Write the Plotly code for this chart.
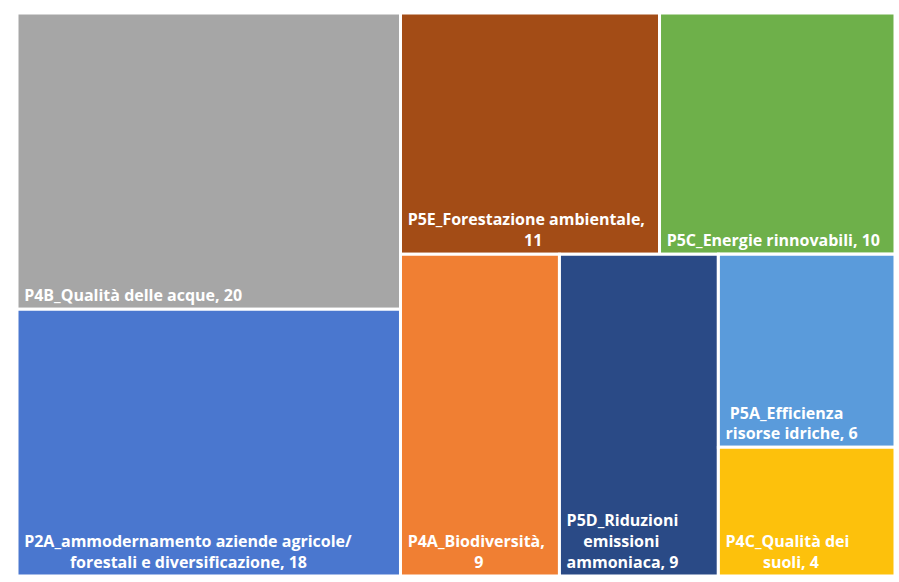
import plotly.graph_objects as go

# Leaf categories and their values
categories = [
    "P4B_Qualità delle acque",
    "P2A_ammodernamento aziende agricole/forestali e diversificazione",
    "P5E_Forestazione ambientale",
    "P5C_Energie rinnovabili",
    "P4A_Biodiversità",
    "P5D_Riduzioni emissioni ammoniaca",
    "P5A_Efficienza risorse idriche",
    "P4C_Qualità dei suoli",
]
values = [20, 18, 11, 10, 9, 9, 6, 4]

# Label lines for each tile; "{v}" marks where the value goes
label_lines = [
    ["P4B_Qualità delle acque, {v}"],
    ["P2A_ammodernamento aziende agricole/", "forestali e diversificazione, {v}"],
    ["P5E_Forestazione ambientale,", "{v}"],
    ["P5C_Energie rinnovabili, {v}"],
    ["P4A_Biodiversità,", "{v}"],
    ["P5D_Riduzioni", "emissioni", "ammoniaca, {v}"],
    ["P5A_Efficienza", "risorse idriche, {v}"],
    ["P4C_Qualità dei", "suoli, {v}"],
]
# Leading non-breaking spaces per line so each block reads centred
line_indent = [
    [1],
    [1, 12],
    [1, 29],
    [1],
    [1, 17],
    [1, 5, 1],
    [2, 1],
    [1, 10],
]

colors = [
    "#a6a6a6", "#4a77cf", "#a34c16", "#6eb04a",
    "#f07f33", "#2a4a86", "#5a9bdb", "#fdc10c",
]

# Grouping of the tiles (leaf indices nested inside layout groups)
tree = ("root", [
    ("A", [0, 1]),
    ("B", [
        ("B1", [2, 3]),
        ("B2", [4, 5, ("B3", [6, 7])]),
    ]),
])

NBSP = "\u00a0"


def leaf_template(i):
    lines = [
        NBSP * n + line.replace("{v}", "%{value}")
        for line, n in zip(label_lines[i], line_indent[i])
    ]
    return "<br>".join(lines)


ids, parents, vals, marker_colors, templates = [], [], [], [], []


def walk(node, parent):
    if isinstance(node, int):
        ids.append(categories[node])
        parents.append(parent)
        vals.append(values[node])
        marker_colors.append(colors[node])
        templates.append(leaf_template(node))
        return
    name, children = node
    ids.append(name)
    parents.append(parent)
    vals.append(0)
    marker_colors.append("#ffffff")
    templates.append(" ")
    for child in children:
        walk(child, name)


walk(tree, "")

fig = go.Figure(go.Treemap(
    ids=ids,
    labels=ids,
    parents=parents,
    values=vals,
    branchvalues="remainder",
    sort=False,
    texttemplate=templates,
    textposition="bottom left",
    textfont=dict(family="Open Sans", size=16, color="#ffffff", weight="bold"),
    marker=dict(
        colors=marker_colors,
        line=dict(color="#ffffff", width=3),
        pad=dict(t=0, l=0, r=0, b=0),
    ),
    tiling=dict(packing="slice-dice", pad=0),
    pathbar=dict(visible=False),
    hoverinfo="skip",
    domain=dict(x=[17 / 899, 895 / 899], y=[1 - 576 / 582, 1 - 13 / 582]),
))

fig.update_layout(
    width=899,
    height=582,
    margin=dict(l=0, r=0, t=0, b=0),
    paper_bgcolor="#ffffff",
)

fig.write_html("out.html")
